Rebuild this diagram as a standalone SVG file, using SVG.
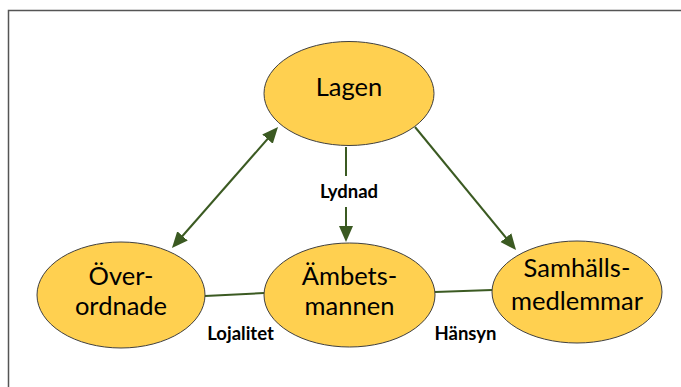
<svg xmlns="http://www.w3.org/2000/svg" width="681" height="387" viewBox="0 0 681 387">
<defs>
<style>
.node{fill:#FFD050;stroke:#404040;stroke-width:1}
.nt{font-family:Lato,"Liberation Sans",sans-serif;font-size:25.5px;fill:#000;text-anchor:middle}
.lbl{font-family:Lato,"Liberation Sans",sans-serif;font-size:18.5px;font-weight:bold;fill:#000;text-anchor:middle}
.c{stroke:#3b5a22;stroke-width:2;fill:none}
</style>
<marker id="ah" markerUnits="userSpaceOnUse" markerWidth="18" markerHeight="16" refX="12" refY="7" orient="auto-start-reverse">
<path d="M0,0 L16,7 L0,14 z" fill="#3b5a22"/>
</marker>
</defs>
<rect width="681" height="387" fill="#fff"/>
<path d="M8.5,387 V10.5 H681" fill="none" stroke="#555" stroke-width="1.5"/>
<g id="connectors">
<line class="c" x1="174.6" y1="245" x2="275.4" y2="130" marker-start="url(#ah)" marker-end="url(#ah)"/>
<line class="c" x1="346" y1="147" x2="346" y2="176"/>
<line class="c" x1="346" y1="207" x2="346" y2="238" marker-end="url(#ah)"/>
<line class="c" x1="415" y1="127" x2="513.5" y2="246.9" marker-end="url(#ah)"/>
<line class="c" x1="205" y1="296" x2="264" y2="293"/>
<line class="c" x1="435" y1="292" x2="492" y2="290"/>
</g>
<g id="lagen">
<ellipse class="node" cx="349" cy="93.5" rx="85" ry="52"/>
<text class="nt" x="349" y="96">Lagen</text>
</g>
<g id="overordnade">
<ellipse class="node" cx="121" cy="295" rx="84" ry="53"/>
<text class="nt" x="121" y="285">Över-</text>
<text class="nt" x="121" y="315">ordnade</text>
</g>
<g id="ambetsmannen">
<ellipse class="node" cx="349.5" cy="295" rx="85.5" ry="52"/>
<text class="nt" x="349.5" y="285">Ämbets-</text>
<text class="nt" x="349.5" y="315">mannen</text>
</g>
<g id="samhallsmedlemmar">
<ellipse class="node" cx="577" cy="292" rx="85" ry="51"/>
<text class="nt" x="577" y="277">Samhälls-</text>
<text class="nt" x="577" y="310">medlemmar</text>
</g>
<g id="labels">
<text class="lbl" x="349" y="198">Lydnad</text>
<text class="lbl" x="240.5" y="340">Lojalitet</text>
<text class="lbl" x="465.5" y="340">Hänsyn</text>
</g>
</svg>
